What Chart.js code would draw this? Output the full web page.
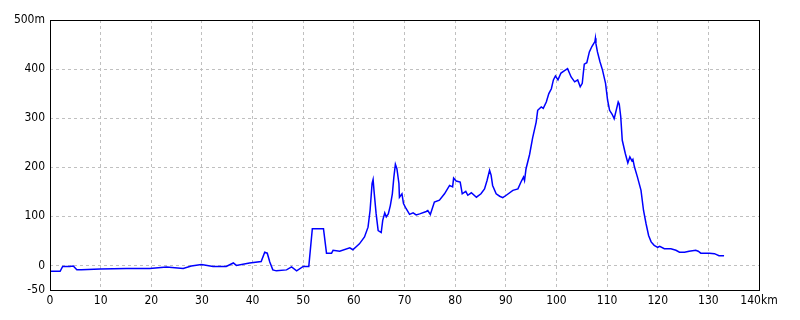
<!DOCTYPE html>
<html>
<head>
<meta charset="utf-8">
<script src="https://cdn.jsdelivr.net/npm/chart.js@4"></script>
<style>
  html, body { margin: 0; padding: 0; background: #fff; }
  #wrap { width: 800px; height: 320px; }
</style>
</head>
<body>
<div id="wrap"><canvas id="chart"></canvas></div>
<script>
// distance (km) and elevation (m)
const distKm = [0, 2.0, 2.5, 3.9, 4.6, 5.3, 6.2, 9.9, 15.1, 19.7, 23.0, 26.3, 27.9, 29.9, 32.2, 34.8, 36.2, 36.8, 39.4, 41.7,
  42.4, 42.9, 43.4, 44.0, 44.7, 46.7, 47.7, 48.7, 50.0, 51.1, 51.8, 54.0, 54.6, 55.6, 55.9, 57.2, 59.2, 59.8, 61.1, 62.1,
  62.8, 63.2, 63.6, 63.8, 64.0, 64.4, 64.8, 65.4, 65.7, 66.1, 66.4, 66.8, 67.2, 67.6, 67.9, 68.2, 68.5, 68.9, 69.0, 69.5,
  69.8, 70.3, 71.0, 71.7, 72.3, 73.0, 74.3, 74.6, 75.1, 75.9, 76.9, 77.9, 78.9, 79.5, 79.7, 80.2, 81.0, 81.4, 82.1, 82.5,
  83.2, 84.2, 85.1, 85.8, 86.3, 86.8, 87.1, 87.4, 88.1, 88.8, 89.4, 90.1, 91.4, 92.4, 93.0, 93.5, 93.7, 94.0, 94.7, 95.3,
  96.0, 96.3, 97.0, 97.4, 98.0, 98.5, 99.0, 99.4, 99.8, 100.3, 100.9, 101.6, 102.2, 102.9, 103.6, 104.2, 104.7, 105.1, 105.3, 105.5,
  106.0, 106.5, 107.0, 107.6, 107.7, 107.8, 108.1, 108.6, 109.1, 109.7, 110.1, 110.5, 111.0, 111.4, 111.8, 112.2, 112.4, 112.7, 113.0, 113.6,
  114.1, 114.5, 114.9, 115.1, 115.4, 116.0, 116.7, 117.2, 117.7, 118.2, 118.7, 119.3, 120.0, 120.4, 121.3, 122.6, 123.6, 124.3, 125.3, 126.2,
  127.5, 128.0, 128.5, 129.5, 130.2, 131.2, 132.1, 133.1];
const elevM = [-12, -12, -2, -2, -1, -9, -9, -7, -6, -6, -3, -6, -1, 2, -2, -2, 5, 0, 5, 8,
  27, 25, 7, -9, -11, -9, -3, -11, -2, -2, 75, 75, 25, 25, 31, 29, 36, 32, 44, 58,
  78, 112, 167, 175, 150, 105, 71, 67, 92, 107, 99, 105, 122, 146, 180, 206, 197, 167, 139, 146,
  126, 116, 104, 107, 103, 105, 110, 112, 104, 129, 133, 146, 163, 160, 178, 172, 170, 146, 151, 143,
  148, 139, 146, 156, 173, 194, 184, 163, 146, 141, 138, 143, 153, 156, 170, 180, 173, 197, 226, 260,
  292, 316, 323, 320, 333, 350, 360, 378, 386, 378, 392, 397, 401, 384, 374, 378, 364, 371, 391, 410,
  413, 435, 446, 456, 463, 452, 435, 415, 398, 371, 337, 316, 308, 299, 316, 333, 329, 303, 255, 228,
  209, 221, 213, 216, 201, 180, 153, 112, 85, 61, 48, 41, 37, 39, 34, 34, 31, 27, 27, 29,
  31, 29, 25, 25, 25, 24, 20, 20];

const xTicks = [0, 10, 20, 30, 40, 50, 60, 70, 80, 90, 100, 110, 120, 130, 140];
const yTicks = [-50, 0, 100, 200, 300, 400, 500];

const points = distKm.map((d, i) => ({ x: d, y: elevM[i] }));
const tickFont = { family: "'Liberation Sans Narrow', 'DejaVu Sans Condensed', sans-serif", size: 12 };

// black box round the plot area
const frame = {
  id: 'frame',
  afterDraw(chart) {
    const { ctx, chartArea: a } = chart;
    ctx.save();
    ctx.strokeStyle = '#000';
    ctx.lineWidth = 1;
    ctx.strokeRect(Math.round(a.left) + 0.5, Math.round(a.top) + 0.5,
      Math.round(a.right - a.left), Math.round(a.bottom - a.top));
    ctx.restore();
  }
};

new Chart(document.getElementById('chart'), {
  type: 'line',
  data: {
    datasets: [{
      data: points,
      borderColor: '#0000ff',
      borderWidth: 1.5,
      pointRadius: 0,
      tension: 0,
      fill: false
    }]
  },
  options: {
    responsive: true,
    maintainAspectRatio: false,
    animation: false,
    layout: { padding: { top: 20, right: 41, bottom: 0, left: 0 } },
    plugins: { legend: { display: false }, tooltip: { enabled: false } },
    scales: {
      x: {
        type: 'linear',
        min: 0,
        max: 140,
        afterBuildTicks: axis => { axis.ticks = xTicks.map(v => ({ value: v })); },
        afterFit: axis => { axis.height = 30; },
        ticks: {
          color: '#000',
          font: tickFont,
          padding: 4,
          maxRotation: 0,
          autoSkip: false,
          callback: v => v === 140 ? '140km' : String(v)
        },
        grid: {
          color: ctx => (ctx.tick && (ctx.tick.value === 0 || ctx.tick.value === 140)) ? 'rgba(0,0,0,0)' : '#c0c0c0',
          drawTicks: false
        },
        border: { display: false, dash: [3, 3] }
      },
      y: {
        min: -50,
        max: 500,
        afterBuildTicks: axis => { axis.ticks = yTicks.map(v => ({ value: v })); },
        afterFit: axis => { axis.width = 50; },
        ticks: {
          color: '#000',
          font: tickFont,
          padding: 5,
          autoSkip: false,
          callback: v => v === 500 ? '500m' : String(v)
        },
        grid: {
          color: ctx => (ctx.tick && (ctx.tick.value === -50 || ctx.tick.value === 500)) ? 'rgba(0,0,0,0)' : '#c0c0c0',
          drawTicks: false
        },
        border: { display: false, dash: [3, 3] }
      }
    }
  },
  plugins: [frame]
});
</script>
</body>
</html>
